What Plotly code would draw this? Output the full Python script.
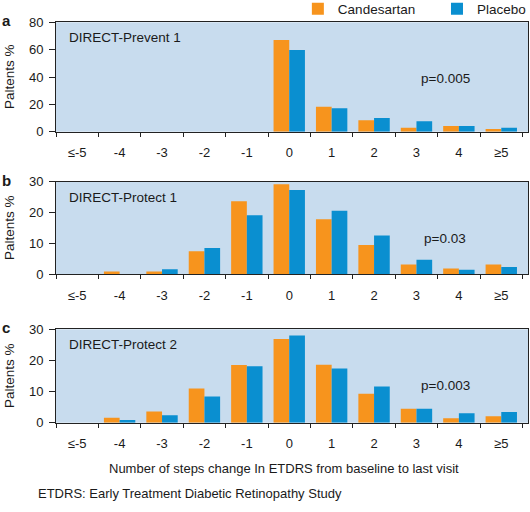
import plotly.graph_objects as go

categories = ["≤-5", "-4", "-3", "-2", "-1", "0", "1", "2", "3", "4", "≥5"]

prevent1_candesartan = [0, 0, 0, 0, 0, 67.1, 18.3, 8.3, 2.9, 4.2, 2.0]
prevent1_placebo = [0, 0, 0, 0, 0, 59.8, 17.1, 10.0, 7.6, 4.2, 2.9]
protect1_candesartan = [0, 0.9, 0.9, 7.5, 23.7, 29.2, 17.8, 9.5, 3.2, 1.9, 3.2]
protect1_placebo = [0, 0, 1.6, 8.5, 19.1, 27.3, 20.6, 12.6, 4.7, 1.5, 2.4]
protect2_candesartan = [0, 1.6, 3.6, 11.0, 18.5, 26.9, 18.6, 9.3, 4.5, 1.4, 2.1]
protect2_placebo = [0, 0.9, 2.4, 8.4, 18.1, 28.0, 17.4, 11.6, 4.5, 3.0, 3.4]

panel_names = ["DIRECT-Prevent 1", "DIRECT-Protect 1", "DIRECT-Protect 2"]
p_values = ["p=0.005", "p=0.03", "p=0.003"]
panel_letters = ["a", "b", "c"]
y_ticks = [[0, 20, 40, 60, 80], [0, 10, 20, 30], [0, 10, 20, 30]]
y_max = [80, 30, 30]

ORANGE = "#f7941d"
BLUE = "#0a8fd0"
BG = "#c8dcee"
FONT = "Liberation Sans, Arial, sans-serif"

W, H = 530, 512
# panel pixel geometry (top, bottom)
panels_px = [(22.3, 131.7), (181.7, 274.3), (329.3, 422.7)]
x_left, x_right = 56, 528

fig = go.Figure()
data = [(prevent1_candesartan, prevent1_placebo),
        (protect1_candesartan, protect1_placebo),
        (protect2_candesartan, protect2_placebo)]

for i, (cand, plac) in enumerate(data):
    xa = "x" if i == 0 else f"x{i+1}"
    ya = "y" if i == 0 else f"y{i+1}"
    fig.add_trace(go.Bar(x=categories, y=cand, name="Candesartan", marker_color=ORANGE,
                         marker_line_width=0, xaxis=xa, yaxis=ya,
                         showlegend=(i == 0), legend="legend"))
    fig.add_trace(go.Bar(x=categories, y=plac, name="Placebo", marker_color=BLUE,
                         marker_line_width=0, xaxis=xa, yaxis=ya,
                         showlegend=(i == 0), legend="legend2"))

legend_y = 1 - 9 / H
layout = dict(
    width=W, height=H, margin=dict(l=0, r=0, t=0, b=0, autoexpand=False),
    paper_bgcolor="white", plot_bgcolor=BG,
    barmode="group", bargap=0.26, bargroupgap=0,
    font=dict(family=FONT, size=13, color="#1a1a1a"),
    legend=dict(x=0.562, y=legend_y, xanchor="left", yanchor="middle", orientation="h",
                font=dict(size=13.5), bgcolor="rgba(0,0,0,0)"),
    legend2=dict(x=0.8245, y=legend_y, xanchor="left", yanchor="middle", orientation="h",
                 font=dict(size=13.5), bgcolor="rgba(0,0,0,0)"),
)
annotations = []
for i, (top, bot) in enumerate(panels_px):
    suffix = "" if i == 0 else str(i + 1)
    layout["xaxis" + suffix] = dict(
        domain=[x_left / W, x_right / W], anchor="y" + suffix,
        type="category", range=[-0.5, 10.63], tickson="boundaries",
        ticks="outside", ticklen=4, tickcolor="#222", showline=True, linecolor="#222",
        linewidth=1, mirror=True, showgrid=False, tickfont=dict(size=13),
        ticklabelstandoff=9,
    )
    layout["yaxis" + suffix] = dict(
        domain=[1 - bot / H, 1 - top / H], anchor="x" + suffix,
        range=[0, y_max[i]], tickvals=y_ticks[i], ticks="outside", ticklen=6,
        tickcolor="#222", showline=True, linecolor="#222", linewidth=1, mirror=True,
        showgrid=False, zeroline=False, tickfont=dict(size=13), ticklabelstandoff=3,
    )
    mid = (top + bot) / 2
    annotations.append(dict(text="Paltents %", x=9 / W, y=1 - mid / H, xref="paper", yref="paper",
                            textangle=-90, showarrow=False, font=dict(size=13.5),
                            xanchor="center", yanchor="middle"))
    annotations.append(dict(text=panel_names[i], x=67 / W, y=1 - (top + 15.5) / H,
                            xref="paper", yref="paper", showarrow=False, font=dict(size=13.5),
                            xanchor="left", yanchor="middle"))
    annotations.append(dict(text=p_values[i], x=445 / W, y=1 - (top + 56.5) / H,
                            xref="paper", yref="paper", showarrow=False, font=dict(size=13.5),
                            xanchor="center", yanchor="middle"))
    annotations.append(dict(text="<b>" + panel_letters[i] + "</b>", x=6 / W, y=1 - (top - 1.5) / H,
                            xref="paper", yref="paper", showarrow=False, font=dict(size=15),
                            xanchor="center", yanchor="middle"))

annotations.append(dict(text="Number of steps change In ETDRS from baseline to last visit",
                        x=284 / W, y=1 - 468 / H, xref="paper", yref="paper", showarrow=False,
                        font=dict(size=13), xanchor="center", yanchor="middle"))
annotations.append(dict(text="ETDRS: Early Treatment Diabetic Retinopathy Study",
                        x=36 / W, y=1 - 493 / H, xref="paper", yref="paper", showarrow=False,
                        font=dict(size=13), xanchor="left", yanchor="middle"))
layout["annotations"] = annotations
fig.update_layout(**layout)
fig.write_html("out.html", config={"displayModeBar": False},
               post_script="document.body.style.margin='0px';")
